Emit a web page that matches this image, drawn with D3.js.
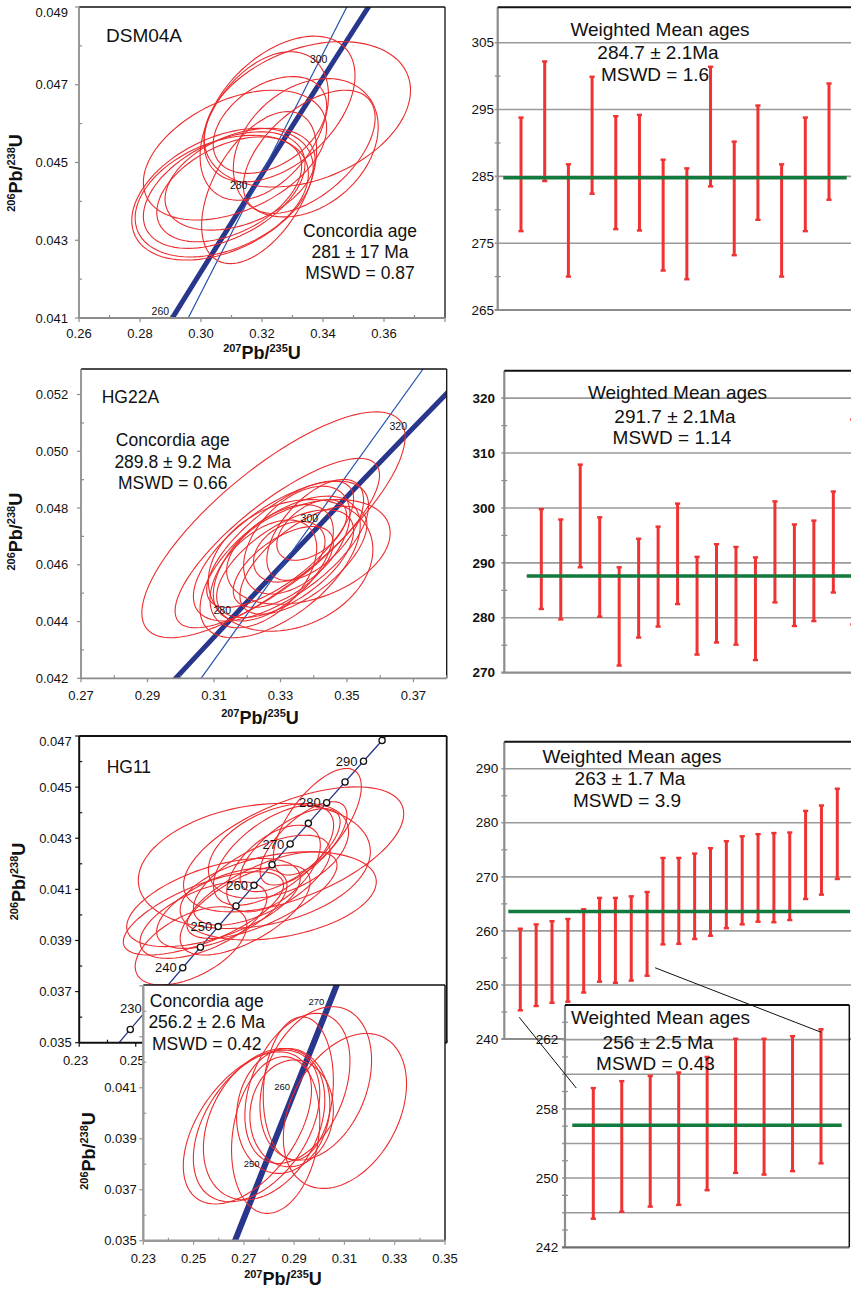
<!DOCTYPE html>
<html>
<head>
<meta charset="utf-8">
<script src="https://cdn.jsdelivr.net/npm/d3@7/dist/d3.min.js"></script>
<style>
  body { margin: 0; background: #fff; }
  svg text { font-family: "Liberation Sans", Arial, Helvetica, sans-serif; fill: #111; }
</style>
</head>
<body>
<svg id="fig" width="851" height="1289"></svg>
<script>
// ---------- data ----------
// concordia reference points: age (Ma), 207Pb/235U, 206Pb/238U
const concAges = [220, 225, 230, 235, 240, 245, 250, 255, 260, 265, 270, 275, 280, 285, 290, 295, 300, 310, 320, 330];
const concX = [0.24193, 0.24806, 0.25422, 0.26041, 0.26663, 0.27289, 0.27917, 0.28549, 0.29183, 0.29821,
               0.30462, 0.31106, 0.31753, 0.32403, 0.33057, 0.33714, 0.34374, 0.35704, 0.37047, 0.38403];
const concY = [0.034717, 0.035519, 0.036323, 0.037127, 0.037932, 0.038737, 0.039543, 0.040350, 0.041157, 0.041965,
               0.042773, 0.043582, 0.044392, 0.045202, 0.046013, 0.046825, 0.047637, 0.049263, 0.050892, 0.052524];

// error ellipses: [x min, x max, y min, y max, rho]
const dsmEllipses = [
  [0.2773, 0.3368, 0.04249, 0.04588, 0.40],
  [0.2784, 0.3352, 0.04257, 0.04570, 0.36],
  [0.2811, 0.3341, 0.04279, 0.04579, 0.45],
  [0.2855, 0.3330, 0.04296, 0.04566, 0.44],
  [0.2882, 0.3374, 0.04326, 0.04588, 0.39],
  [0.2811, 0.3412, 0.04352, 0.04686, 0.42],
  [0.3010, 0.3505, 0.04450, 0.04825, 0.46],
  [0.3010, 0.3687, 0.04437, 0.04811, 0.33],
  [0.3040, 0.3412, 0.04472, 0.04721, 0.40],
  [0.3106, 0.3581, 0.04360, 0.04716, 0.30],
  [0.2997, 0.3418, 0.04403, 0.04785, 0.41],
  [0.3002, 0.3379, 0.04240, 0.04631, 0.50],
  [0.3139, 0.3571, 0.04369, 0.04686, 0.55]
];
const hg22Ellipses = [
  [0.2883, 0.3675, 0.04343, 0.05139, 0.78],
  [0.2983, 0.3598, 0.04378, 0.04975, 0.80],
  [0.3038, 0.3565, 0.04402, 0.04895, 0.65],
  [0.3078, 0.3520, 0.04450, 0.04895, 0.72],
  [0.3083, 0.3578, 0.04366, 0.04830, 0.24],
  [0.3138, 0.3630, 0.04461, 0.04830, 0.36],
  [0.3098, 0.3459, 0.04402, 0.04812, 0.54],
  [0.3189, 0.3509, 0.04497, 0.04877, 0.48],
  [0.3219, 0.3434, 0.04539, 0.04753, 0.33],
  [0.3289, 0.3499, 0.04616, 0.04830, 0.48],
  [0.3088, 0.3409, 0.04378, 0.04758, 0.48],
  [0.3178, 0.3560, 0.04426, 0.04806, 0.66],
  [0.3058, 0.3540, 0.04343, 0.04842, 0.59],
  [0.3158, 0.3459, 0.04450, 0.04735, 0.59],
  [0.3259, 0.3550, 0.04545, 0.04901, 0.59],
  [0.3108, 0.3520, 0.04414, 0.04794, 0.61]
];
const hg11Ellipses = [
  [0.2509, 0.3330, 0.03947, 0.04436, 0.23],
  [0.2669, 0.3448, 0.04012, 0.04501, 0.57],
  [0.2987, 0.3298, 0.04156, 0.04573, 0.66],
  [0.2757, 0.3253, 0.04065, 0.04436, 0.40],
  [0.2456, 0.3023, 0.03843, 0.04169, 0.68],
  [0.2498, 0.2893, 0.03726, 0.04032, 0.53],
  [0.2468, 0.3082, 0.03876, 0.04221, 0.55],
  [0.2657, 0.3351, 0.03902, 0.04247, 0.32],
  [0.2681, 0.3212, 0.03908, 0.04247, 0.69],
  [0.2775, 0.3200, 0.04038, 0.04429, 0.60],
  [0.2657, 0.3117, 0.03843, 0.04195, 0.63],
  [0.2704, 0.3188, 0.03960, 0.04312, 0.63],
  [0.2869, 0.3223, 0.04091, 0.04416, 0.68],
  [0.2515, 0.2964, 0.03830, 0.04130, 0.57],
  [0.2822, 0.3153, 0.04012, 0.04351, 0.54],
  [0.2574, 0.3035, 0.03869, 0.04182, 0.58],
  [0.2940, 0.3247, 0.04117, 0.04443, 0.68]
];
const hg11InsetEllipses = [
  [0.2459, 0.2969, 0.03644, 0.04241, 0.50],
  [0.2499, 0.3002, 0.03653, 0.04248, 0.43],
  [0.2539, 0.3022, 0.03660, 0.04254, 0.32],
  [0.2651, 0.3002, 0.03607, 0.04222, 0.19],
  [0.2704, 0.3122, 0.03803, 0.04392, 0.36],
  [0.2764, 0.3208, 0.03816, 0.04418, 0.30],
  [0.2857, 0.3347, 0.03705, 0.04313, 0.35],
  [0.2671, 0.3042, 0.03764, 0.04254, 0.10],
  [0.2777, 0.3056, 0.03816, 0.04378, 0.11],
  [0.2724, 0.3056, 0.03790, 0.04209, 0.06]
];

// straight reference lines and the inset concordia band
const dsmLineX = [0.2958, 0.3478], dsmLineY = [0.041, 0.049];
const hg22LineX = [0.3061, 0.3729], hg22LineY = [0.042, 0.0529];
const insetConcAges = [245, 250, 260, 270, 275];
const insetConcX = [0.2634, 0.2786, 0.2908, 0.3044, 0.3077];
const insetConcY = [0.03424, 0.03801, 0.04103, 0.04440, 0.04522];

// weighted mean ages: 2-sigma error bars (Ma)
const dsmLow  = [276.8, 284.3, 270.0, 282.4, 277.1, 276.9, 270.9, 269.6, 283.5, 273.2, 278.5, 270.0, 276.8, 281.5];
const dsmHigh = [293.8, 302.2, 286.8, 299.9, 294.0, 294.2, 287.5, 286.2, 301.4, 290.2, 295.6, 286.8, 293.8, 298.9];
const dsmMean = 284.8;
const hg22Low  = [281.6, 279.7, 289.2, 280.2, 271.3, 276.4, 278.4, 282.5, 273.3, 275.5, 275.1, 272.3, 282.8, 278.5, 279.4, 284.6, 278.8];
const hg22High = [299.8, 297.9, 307.9, 298.3, 289.2, 294.4, 296.6, 300.8, 291.1, 293.4, 292.9, 291.0, 301.2, 297.0, 297.7, 303.0, 316.1];
const hg22Mean = 287.6;
const hg11Low  = [245.3, 246.1, 246.7, 246.9, 248.6, 250.6, 250.4, 250.8, 251.7, 257.5, 257.6, 258.5, 259.1, 260.5, 261.2, 261.7, 261.6, 262.0, 265.9, 266.7, 269.6];
const hg11High = [260.4, 261.2, 261.8, 262.2, 264.0, 266.1, 266.1, 266.4, 267.2, 273.5, 273.5, 274.3, 275.3, 276.6, 277.5, 277.9, 278.1, 278.2, 282.2, 283.2, 286.3];
const hg11Mean = 263.6;
const hg11InsetCount = 9;
const hg11InsetMean = 256.1;

// tick labels
const dsmXTicks = [0.26, 0.28, 0.30, 0.32, 0.34, 0.36];
const dsmYTicks = [0.041, 0.043, 0.045, 0.047, 0.049];
const hg22XTicks = [0.27, 0.29, 0.31, 0.33, 0.35, 0.37];
const hg22YTicks = [0.042, 0.044, 0.046, 0.048, 0.050, 0.052];
const hg11XTicks = [0.23, 0.25, 0.27, 0.29, 0.31, 0.33, 0.35];
const hg11YTicks = [0.035, 0.037, 0.039, 0.041, 0.043, 0.045, 0.047];
const insetXTicks = [0.23, 0.25, 0.27, 0.29, 0.31, 0.33, 0.35];
const insetYTicks = [0.035, 0.037, 0.039, 0.041];
const dsmAgeTicks = [265, 275, 285, 295, 305];
const hg22AgeTicks = [270, 280, 290, 300, 310, 320];
const hg11AgeTicks = [240, 250, 260, 270, 280, 290];
const insetAgeTicks = [242, 250, 258, 266];
const insetAgeLabels = ["242", "250", "258", "262"];

// texts
const dsmConcText = ["Concordia age", "281 ± 17 Ma", "MSWD = 0.87"];
const hg22ConcText = ["Concordia age", "289.8 ± 9.2 Ma", "MSWD = 0.66"];
const hg11ConcText = ["Concordia age", "256.2 ± 2.6 Ma", "MSWD = 0.42"];
const dsmMeanText = ["Weighted Mean ages", "284.7 ± 2.1Ma", "MSWD = 1.6"];
const hg22MeanText = ["Weighted Mean ages", "291.7 ± 2.1Ma", "MSWD = 1.14"];
const hg11MeanText = ["Weighted Mean ages", "263 ± 1.7 Ma", "MSWD = 3.9"];
const hg11InsetText = ["Weighted Mean ages", "256 ± 2.5 Ma", "MSWD = 0.43"];

// ---------- drawing ----------
const RED = "#ec2b2d", BAR = "#ef3232", NAVY = "#28378c", BLUE = "#2552ae", GREEN = "#127a3c";
const GRAY = "#8c8c8c", BLACK = "#111";
const svg = d3.select("#fig");
let clipCount = 0;

function ellipsePoints(e, x, y) {
  const [x0, x1, y0, y1, r] = e;
  const cx = (x0 + x1) / 2, cy = (y0 + y1) / 2;
  const sx = (x1 - x0) / 2, sy = (y1 - y0) / 2, q = Math.sqrt(1 - r * r);
  return d3.range(96).map(i => {
    const t = i / 96 * 2 * Math.PI;
    return [x(cx + sx * Math.cos(t)), y(cy + sy * (r * Math.cos(t) + q * Math.sin(t)))];
  });
}

function isoTitle(g, px, py, upper, lower, vertical) {
  const t = g.append("text").attr("text-anchor", "middle")
    .attr("font-weight", "bold").attr("font-size", 18);
  if (vertical) t.attr("transform", `translate(${px},${py}) rotate(-90)`);
  else t.attr("x", px).attr("y", py);
  t.append("tspan").attr("font-size", 11).attr("dy", -7).text(upper);
  t.append("tspan").attr("dy", 7).text("Pb/");
  t.append("tspan").attr("font-size", 11).attr("dy", -7).text(lower);
  t.append("tspan").attr("dy", 7).text("U");
}

function seg(g, x1, y1, x2, y2, color, w) {
  g.append("line").attr("x1", x1).attr("y1", y1).attr("x2", x2).attr("y2", y2)
    .attr("stroke", color).attr("stroke-width", w);
}

function textLines(g, lines, xs, ys, size) {
  lines.forEach((s, i) => {
    g.append("text").attr("x", Array.isArray(xs) ? xs[i] : xs).attr("y", ys[i])
      .attr("text-anchor", "middle").attr("font-size", size).text(s);
  });
}

function concordiaPanel(o) {
  const g = svg.append("g");
  const x = d3.scaleLinear().domain(o.xDomain).range([o.left, o.right]);
  const y = d3.scaleLinear().domain(o.yDomain).range([o.bottom, o.top]);
  const id = "clip" + (clipCount++);
  g.append("clipPath").attr("id", id).append("rect")
    .attr("x", o.left).attr("y", o.top)
    .attr("width", o.right - o.left).attr("height", o.bottom - o.top);
  if (o.fill) {
    g.append("rect").attr("x", o.left).attr("y", o.top)
      .attr("width", o.right - o.left).attr("height", o.bottom - o.top).attr("fill", "#fff");
  }
  const plot = g.append("g").attr("clip-path", `url(#${id})`);
  const line = d3.line().x(d => x(d[0])).y(d => y(d[1]));

  plot.append("path").attr("d", line(o.cx.map((v, i) => [v, o.cy[i]])))
    .attr("fill", "none").attr("stroke", NAVY).attr("stroke-width", o.concWidth);
  if (o.lineX) {
    plot.append("path").attr("d", line(o.lineX.map((v, i) => [v, o.lineY[i]])))
      .attr("fill", "none").attr("stroke", BLUE).attr("stroke-width", 1.2);
  }
  plot.selectAll(null).data(o.ellipses).join("path")
    .attr("d", e => d3.line()(ellipsePoints(e, x, y)) + "Z")
    .attr("fill", "none").attr("stroke", RED).attr("stroke-width", 1.1);
  if (o.circleAges) {
    plot.selectAll(null).data(o.circleAges).join("circle")
      .attr("cx", a => x(o.cx[o.ages.indexOf(a)]))
      .attr("cy", a => y(o.cy[o.ages.indexOf(a)]))
      .attr("r", 3.1).attr("fill", "#fff").attr("stroke", BLACK).attr("stroke-width", 1.3);
  }
  o.labelAges.forEach(a => {
    const i = o.ages.indexOf(a);
    g.append("text").attr("x", x(o.cx[i]) + o.labelDx).attr("y", y(o.cy[i]) + o.labelDy)
      .attr("text-anchor", "end").attr("font-size", o.labelSize).attr("fill", "#222").text(a);
  });

  // frame
  seg(g, o.left, o.top, o.right, o.top, o.frame[0], o.frameW[0]);
  seg(g, o.right, o.top, o.right, o.bottom, o.frame[1], o.frameW[1]);
  seg(g, o.left, o.bottom, o.right, o.bottom, o.frame[2], o.frameW[2]);
  seg(g, o.left, o.top, o.left, o.bottom, o.frame[3], o.frameW[3]);

  // ticks: majors every 0.02 / 0.002 outward, minors in between inward
  const xs = d3.range(Math.round(o.xDomain[0] * 100), Math.round(o.xDomain[1] * 100) + 1).map(v => v / 100);
  xs.forEach(v => {
    const major = Math.round(v * 100) % 2 === Math.round(o.xDomain[0] * 100) % 2;
    if (major) seg(g, x(v), o.bottom, x(v), o.bottom + 4, o.frame[2], 1.2);
    else seg(g, x(v), o.bottom, x(v), o.bottom - 3, o.frame[2], 1.2);
  });
  const ys = d3.range(Math.round(o.yDomain[0] * 1000), Math.floor(o.yDomain[1] * 1000 + 1e-6) + 1).map(v => v / 1000);
  ys.forEach(v => {
    const major = Math.round(v * 1000) % 2 === Math.round(o.yTicks[0] * 1000) % 2;
    if (major) seg(g, o.left - 4, y(v), o.left, y(v), o.frame[3], 1.2);
    else seg(g, o.left, y(v), o.left + 3, y(v), o.frame[3], 1.2);
  });

  // tick labels
  o.xTicks.forEach(v => {
    g.append("text").attr("x", x(v) + o.xLabelDx).attr("y", o.xLabelY)
      .attr("text-anchor", o.xLabelAnchor).attr("font-size", 13).text(d3.format(".2f")(v));
  });
  o.yTicks.forEach(v => {
    g.append("text").attr("x", o.yLabelX).attr("y", Math.max(y(v), o.top + 5) + 4.6)
      .attr("text-anchor", "end").attr("font-size", 13).text(d3.format(".3f")(v));
  });

  if (o.xTitle) isoTitle(g, o.xTitle[0], o.xTitle[1], "207", "235", false);
  if (o.yTitle) isoTitle(g, o.yTitle[0], o.yTitle[1], "206", "238", true);

  if (o.name) {
    g.append("text").attr("x", o.name[1]).attr("y", o.name[2])
      .attr("font-size", o.name[3]).text(o.name[0]);
  }
  if (o.text) textLines(g, o.text, o.textX, o.textY, 17.5);
  return { x, y };
}

function meanPanel(o) {
  const g = svg.append("g");
  const y = d3.scaleLinear().domain(o.yDomain).range([o.bottom, o.top]);
  const x = d3.scaleLinear().domain([1, o.low.length]).range([o.firstX, o.lastX]);
  if (o.fill) {
    g.append("rect").attr("x", o.left).attr("y", o.top)
      .attr("width", o.right - o.left).attr("height", o.bottom - o.top).attr("fill", "#fff");
  }
  o.grid.forEach(v => seg(g, o.left - 3, y(v), o.right, y(v), "#9a9a9a", 1.6));
  o.minor.forEach(v => seg(g, o.left - 3, y(v), o.left + 3, y(v), GRAY, 1.2));
  seg(g, o.left, o.top, o.left, o.bottom, GRAY, 2.2);
  seg(g, o.left - 3, o.bottom, o.right, o.bottom, o.bottomColor || GRAY, 2.2);
  seg(g, o.left, o.top, o.right, o.top, BLACK, 2);
  if (o.rightBorder) seg(g, o.right, o.top, o.right, o.bottom, BLACK, 1.5);

  o.ticks.forEach((v, i) => {
    g.append("text").attr("x", o.labelX).attr("y", y(v) + 4.7)
      .attr("text-anchor", "end").attr("font-size", 13.5)
      .attr("font-weight", o.bold ? "bold" : "normal")
      .text(o.tickLabels ? o.tickLabels[i] : v);
  });

  const bars = g.append("g");
  o.low.forEach((lo, i) => {
    const px = x(i + 1), hi = o.high[i];
    seg(bars, px, y(lo), px, y(hi), BAR, 3);
    seg(bars, px - 2.6, y(lo), px + 2.6, y(lo), BAR, 2.4);
    seg(bars, px - 2.6, y(hi), px + 2.6, y(hi), BAR, 2.4);
  });
  seg(g, o.meanX[0], y(o.mean), o.meanX[1], y(o.mean), GREEN, 3.6);
  textLines(g, o.text, o.textX, o.textY, 19);
  return { x, y };
}

// ---------- panels ----------
concordiaPanel({
  left: 79, right: 445, top: 7, bottom: 318,
  xDomain: [0.26, 0.38], yDomain: [0.041, 0.049],
  xTicks: dsmXTicks, yTicks: dsmYTicks,
  xLabelY: 337.6, xLabelDx: 0, xLabelAnchor: "middle", yLabelX: 68,
  frame: [BLACK, BLACK, GRAY, GRAY], frameW: [1.3, 1.3, 1.8, 1.8],
  ages: concAges, cx: concX, cy: concY, concWidth: 5,
  lineX: dsmLineX, lineY: dsmLineY,
  ellipses: dsmEllipses,
  labelAges: [260, 280, 300], labelDx: -7, labelDy: 3, labelSize: 10.5,
  xTitle: [262, 359], yTitle: [22, 173],
  name: ["DSM04A", 106, 42, 19],
  text: dsmConcText, textX: 360, textY: [237.3, 258, 279]
});

concordiaPanel({
  left: 81, right: 446.7, top: 369, bottom: 678.3,
  xDomain: [0.27, 0.38], yDomain: [0.042, 0.0529],
  xTicks: hg22XTicks, yTicks: hg22YTicks,
  xLabelY: 699.6, xLabelDx: 0, xLabelAnchor: "middle", yLabelX: 68.3,
  frame: [BLACK, BLACK, GRAY, GRAY], frameW: [1.3, 1.3, 1.8, 1.8],
  ages: concAges, cx: concX, cy: concY, concWidth: 5,
  lineX: hg22LineX, lineY: hg22LineY,
  ellipses: hg22Ellipses,
  labelAges: [280, 300, 320], labelDx: -8, labelDy: 4, labelSize: 10.5,
  xTitle: [260, 724], yTitle: [22, 531.7],
  name: ["HG22A", 101.7, 403, 17.5],
  text: hg22ConcText, textX: 172.7, textY: [446.3, 468, 489]
});

concordiaPanel({
  left: 79.2, right: 446.7, top: 736, bottom: 1042.7,
  xDomain: [0.23, 0.36], yDomain: [0.035, 0.047],
  xTicks: hg11XTicks, yTicks: hg11YTicks,
  xLabelY: 1064.6, xLabelDx: 9, xLabelAnchor: "end", yLabelX: 71.7,
  frame: [BLACK, BLACK, BLACK, BLACK], frameW: [1.8, 1.8, 2, 2],
  ages: concAges, cx: concX, cy: concY, concWidth: 1.3,
  ellipses: hg11Ellipses,
  circleAges: d3.range(225, 300, 5),
  labelAges: [230, 240, 250, 260, 270, 280, 290], labelDx: -6, labelDy: 4.5, labelSize: 13,
  yTitle: [25, 881.5],
  name: ["HG11", 106.7, 773, 17.5]
});

// HG11 inset concordia (drawn over the main diagram)
concordiaPanel({
  left: 143.3, right: 445, top: 985, bottom: 1240.7, fill: true,
  xDomain: [0.23, 0.35], yDomain: [0.035, 0.04503],
  xTicks: insetXTicks, yTicks: insetYTicks,
  xLabelY: 1262.6, xLabelDx: 0, xLabelAnchor: "middle", yLabelX: 136.7,
  frame: [BLACK, BLACK, "#999", "#999"], frameW: [1.4, 1.4, 2.4, 2.4],
  ages: insetConcAges, cx: insetConcX, cy: insetConcY, concWidth: 6,
  ellipses: hg11InsetEllipses,
  labelAges: [250, 260, 270], labelDx: -6, labelDy: 3.5, labelSize: 9.5,
  xTitle: [283, 1285], yTitle: [95, 1151],
  text: hg11ConcText, textX: 206.7, textY: [1007.3, 1028, 1049.6]
});

meanPanel({
  left: 497.7, right: 851, top: 7.3, bottom: 310,
  yDomain: [265, 310.3], low: dsmLow, high: dsmHigh, mean: dsmMean,
  firstX: 521, lastX: 829,
  grid: [275, 285, 295, 305], minor: [270, 280, 290, 300],
  ticks: dsmAgeTicks, labelX: 494,
  meanX: [503.3, 846.7],
  text: dsmMeanText, textX: [660, 658, 655], textY: [36, 59, 81]
});

meanPanel({
  left: 504.3, right: 851, top: 370.7, bottom: 672.7,
  yDomain: [270, 325], low: hg22Low, high: hg22High, mean: hg22Mean,
  firstX: 541.3, lastX: 852.8, bold: true,
  grid: [280, 290, 300, 310, 320], minor: [275, 285, 295, 305, 315],
  ticks: hg22AgeTicks, labelX: 495,
  meanX: [526.7, 851],
  text: hg22MeanText, textX: [677.5, 675, 672], textY: [398.5, 422.5, 443.5]
});

const main6 = meanPanel({
  left: 504.3, right: 851, top: 741.7, bottom: 1039,
  yDomain: [240, 295], low: hg11Low, high: hg11High, mean: hg11Mean,
  firstX: 520.3, lastX: 837.3,
  grid: [250, 260, 270, 280, 290], minor: [245, 255, 265, 275, 285],
  ticks: hg11AgeTicks, labelX: 498.3,
  meanX: [508.3, 850],
  text: hg11MeanText, textX: [632, 630, 627], textY: [763, 785, 807]
});

const inset6 = meanPanel({
  left: 565, right: 849.3, top: 1005, bottom: 1247.3, fill: true, rightBorder: true,
  bottomColor: "#6f6f6f",
  yDomain: [242, 270],
  low: hg11Low.slice(0, hg11InsetCount), high: hg11High.slice(0, hg11InsetCount), mean: hg11InsetMean,
  firstX: 593.3, lastX: 821,
  grid: [246, 250, 254, 258, 262, 266], minor: [244, 248, 252, 256, 260, 264, 268],
  ticks: insetAgeTicks, tickLabels: insetAgeLabels, labelX: 558.3,
  meanX: [572.3, 841.7],
  text: hg11InsetText, textX: [660.5, 658, 655.5], textY: [1024, 1048.5, 1070]
});

// connector lines from the main weighted-mean plot to its enlargement
const conn = svg.append("g");
seg(conn, main6.x(1) - 1, main6.y(hg11Low[0]) + 7, inset6.x(1) - 17, inset6.y(hg11High[0]), BLACK, 1);
seg(conn, main6.x(9) + 8, main6.y(hg11Low[8]) - 8, inset6.x(9), inset6.y(hg11High[8]) + 3, BLACK, 1);
</script>
</body>
</html>
